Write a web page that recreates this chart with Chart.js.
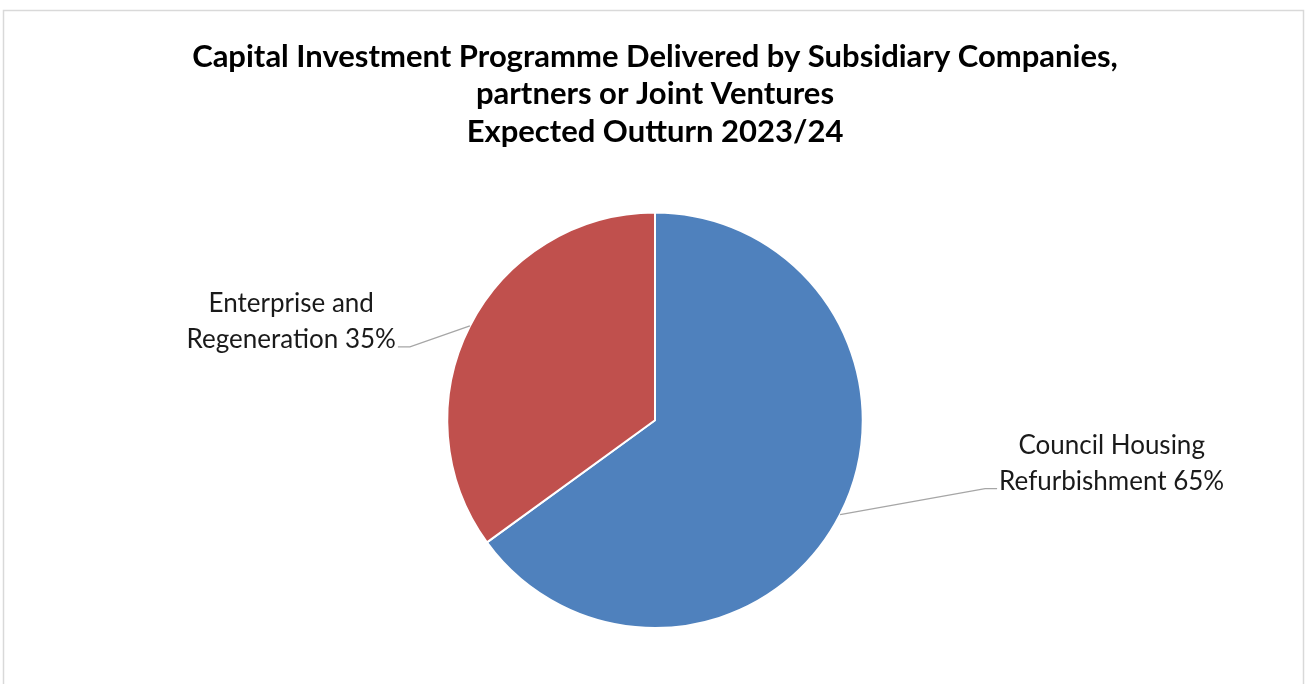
<!DOCTYPE html>
<html>
<head>
<meta charset="utf-8">
<script src="https://cdn.jsdelivr.net/npm/chart.js@4"></script>
<style>
  html, body { margin: 0; padding: 0; background: #fff; }
  #wrap { width: 1307px; height: 684px; }
</style>
</head>
<body>
<div id="wrap"><canvas id="pieChart" width="1307" height="684"></canvas></div>
<script>
// chart data
const titleLines = [
  'Capital Investment Programme Delivered by Subsidiary Companies,',
  'partners or Joint Ventures',
  'Expected Outturn 2023/24'
];
const categories = [
  ['Council Housing', 'Refurbishment'],
  ['Enterprise and', 'Regeneration']
];
const shares = [65, 35];
const sliceColors = ['#4f81bd', '#c0504d'];

const FONT = 'Lato, "Open Sans", sans-serif';

// light frame round the chart, like the spreadsheet chart box
const frame = {
  id: 'frame',
  beforeDraw(chart) {
    const ctx = chart.ctx;
    ctx.save();
    ctx.strokeStyle = '#d9d9d9';
    ctx.lineWidth = 1.5;
    ctx.strokeRect(3.5, 10.5, chart.width - 7, chart.height + 20);
    ctx.restore();
  }
};

// outside labels with leader lines
const labelOffsets = [
  { dx: 145, dy: -26, side: 1 },
  { dx: -60, dy: 21, side: -1 }
];

const outsideLabels = {
  id: 'outsideLabels',
  afterDatasetsDraw(chart) {
    const ctx = chart.ctx;
    const meta = chart.getDatasetMeta(0);
    const total = shares.reduce((a, b) => a + b, 0);
    ctx.save();
    ctx.font = '26px ' + FONT;
    meta.data.forEach((arc, i) => {
      const mid = (arc.startAngle + arc.endAngle) / 2;
      const x0 = arc.x + Math.cos(mid) * arc.outerRadius;
      const y0 = arc.y + Math.sin(mid) * arc.outerRadius;
      const off = labelOffsets[i];
      const x1 = x0 + off.dx, y1 = y0 + off.dy;
      const x2 = x1 + 12 * off.side;
      ctx.strokeStyle = '#a6a6a6';
      ctx.lineWidth = 1.3;
      ctx.beginPath();
      ctx.moveTo(x0, y0);
      ctx.lineTo(x1, y1);
      ctx.lineTo(x2, y1);
      ctx.stroke();

      const lines = categories[i].slice();
      const pct = Math.round(shares[i] / total * 100);
      lines[lines.length - 1] += ' ' + pct + '%';
      const widths = lines.map(l => ctx.measureText(l).width);
      const maxW = Math.max(...widths);
      const last = lines.length - 1;
      // last line sits on the leader line, block is centred
      const blockCx = off.side > 0 ? x2 + 2 + maxW / 2 : x2 - 2 - maxW / 2;
      ctx.fillStyle = '#1a1a1a';
      ctx.textAlign = 'center';
      ctx.textBaseline = 'middle';
      lines.forEach((l, k) => {
        ctx.fillText(l, blockCx, y1 - 7 - (last - k) * 36);
      });
    });
    ctx.restore();
  }
};

new Chart(document.getElementById('pieChart'), {
  type: 'pie',
  data: {
    labels: categories.map(c => c.join(' ')),
    datasets: [{
      data: shares,
      backgroundColor: sliceColors,
      borderColor: '#ffffff',
      borderWidth: 2
    }]
  },
  options: {
    responsive: false,
    animation: false,
    layout: { padding: { left: 3, right: 0, top: 0, bottom: 55 } },
    plugins: {
      legend: { display: false },
      tooltip: { enabled: false },
      title: {
        display: true,
        text: titleLines,
        color: '#000',
        font: { family: FONT, size: 31, weight: 'bold', lineHeight: 1.21 },
        padding: { top: 38, bottom: 61 }
      }
    }
  },
  plugins: [frame, outsideLabels]
});
</script>
</body>
</html>
